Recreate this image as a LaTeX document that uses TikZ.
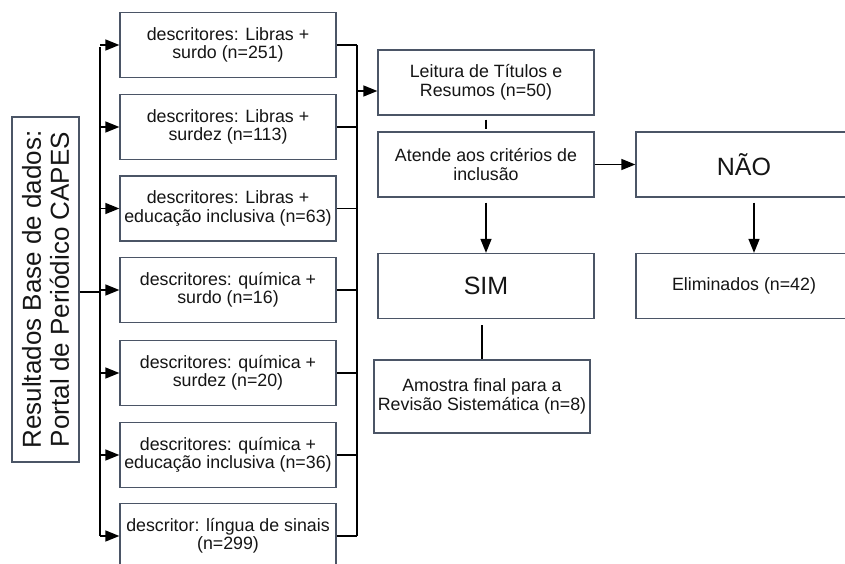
\documentclass[tikz,border=0pt]{standalone}
\usepackage{fontspec}
\setmainfont{Liberation Sans}
\usetikzlibrary{arrows.meta}
\definecolor{boxc}{HTML}{4B5566}
\definecolor{txtc}{HTML}{151515}
\begin{document}
\begin{tikzpicture}[x=1pt,y=-1pt,
  box/.style={draw=boxc,line width=1.3pt,fill=white,rectangle,minimum width=216pt,minimum height=65pt,align=center,inner sep=0pt,text=txtc,font=\fontsize{17.8}{18.5}\selectfont},
  bigbox/.style={box,font=\fontsize{25}{28}\selectfont},
  conn/.style={draw=black,line width=1.4pt},
  arr/.style={conn,-{Triangle[length=14pt,width=11pt]}},
]
\useasboundingbox (0,0) rectangle (845,564);
\begin{scope}
\clip (0,0) rectangle (845,564);
% left box
\node[draw=boxc,line width=1.3pt,rectangle,minimum width=67pt,minimum height=345pt,inner sep=0pt] (L) at (45.5,289.5) {};
\node[rotate=90,align=center,text=txtc,font=\fontsize{26}{28}\selectfont] (Lt) at (L.center) {Resultados Base de dados:\\Portal de Periódico CAPES};
% descriptor boxes
\node[box] (b1) at (228,45) {descritores: Libras +\\surdo (n=251)};
\node[box] (b2) at (228,127) {descritores: Libras +\\surdez (n=113)};
\node[box] (b3) at (228,208.5) {descritores: Libras +\\educação inclusiva (n=63)};
\node[box] (b4) at (228,290) {descritores: química +\\surdo (n=16)};
\node[box] (b5) at (228,373) {descritores: química +\\surdez (n=20)};
\node[box] (b6) at (228,455) {descritores: química +\\educação inclusiva (n=36)};
\node[box] (b7) at (228,536) {descritor: língua de sinais\\(n=299)};
% right column
\node[box] (lei) at (486,82.5) {Leitura de Títulos e\\Resumos (n=50)};
\node[box] (ate) at (486,164.5) {Atende aos critérios de\\inclusão};
\node[bigbox] (sim) at (486,286) {SIM};
\node[box,minimum height=73pt] (ami) at (482,396.5) {Amostra final para a\\Revisão Sistemática (n=8)};
\node[bigbox] (nao) at (744,164.5) {NÃO};
\node[box] (eli) at (744,286) {Eliminados (n=42)};
% left bus
\coordinate (lb) at (100,292);
\draw[conn,line width=2.6pt] (L.east |- lb) -- (lb);
\draw[conn] (100,47) -- (100,536);
\foreach \b in {b1,b2,b3,b4,b5,b6,b7}{
  \draw[arr] (lb |- \b.west) -- (\b.west);
}
% right bus
\coordinate (rb) at (357,91);
\foreach \b in {b1,b2,b3,b4,b5,b6,b7}{
  \draw[conn] (\b.east) -- (\b.east -| rb);
}
\draw[conn] (b1.east -| rb) -- (b7.east -| rb);
\draw[arr] (rb) -- (rb -| lei.west);
% flow
\draw[conn,shorten <=4pt,shorten >=2pt] (lei.south) -- (ate.north);
\draw[arr,shorten <=5pt] (ate.south) -- (sim.north);
\draw[arr] (ate.east) -- (nao.west);
\draw[arr,shorten <=5pt] ([xshift=10pt]nao.south) -- ([xshift=10pt]eli.north);
\draw[conn,shorten <=6pt] (ami.north |- sim.south) -- (ami.north);
\end{scope}
\end{tikzpicture}
\end{document}
